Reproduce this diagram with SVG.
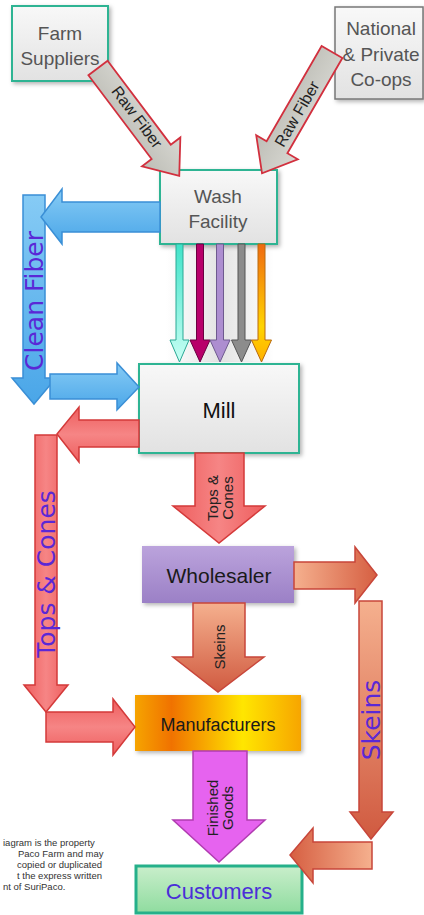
<svg xmlns="http://www.w3.org/2000/svg" width="424" height="915" viewBox="0 0 424 915">
<defs>
<filter id="sh" x="-10%" y="-10%" width="125%" height="130%"><feDropShadow dx="2" dy="2" stdDeviation="2" flood-color="#000" flood-opacity="0.3"/></filter>
<linearGradient id="gBox" x1="0" y1="0" x2="0" y2="1"><stop offset="0" stop-color="#f8f8f8"/><stop offset="1" stop-color="#e2e2e2"/></linearGradient>
<linearGradient id="gWhole" x1="0" y1="0" x2="0" y2="1"><stop offset="0" stop-color="#bba3dc"/><stop offset="1" stop-color="#9b80c6"/></linearGradient>
<linearGradient id="gManu" x1="0" y1="0" x2="1" y2="0"><stop offset="0" stop-color="#f6a400"/><stop offset="0.22" stop-color="#f07200"/><stop offset="0.65" stop-color="#ffe600"/><stop offset="1" stop-color="#f7a500"/></linearGradient>
<linearGradient id="gCust" x1="0" y1="0" x2="0" y2="1"><stop offset="0" stop-color="#c9eecb"/><stop offset="1" stop-color="#8fdc9f"/></linearGradient>
<linearGradient id="gBlue" x1="0" y1="0" x2="0" y2="1"><stop offset="0" stop-color="#86cbf5"/><stop offset="1" stop-color="#4aa6e8"/></linearGradient>
<linearGradient id="gRed" x1="0" y1="0" x2="1" y2="0"><stop offset="0" stop-color="#ee5e5e"/><stop offset="0.5" stop-color="#f68585"/><stop offset="1" stop-color="#ee5e5e"/></linearGradient>
<linearGradient id="gRedV" x1="0" y1="0" x2="0" y2="1"><stop offset="0" stop-color="#ee5e5e"/><stop offset="0.5" stop-color="#f68585"/><stop offset="1" stop-color="#ee5e5e"/></linearGradient>
<linearGradient id="gSalH" x1="0" y1="0" x2="1" y2="0"><stop offset="0" stop-color="#f5b08e"/><stop offset="1" stop-color="#d65f42"/></linearGradient>
<linearGradient id="gSalHr" x1="1" y1="0" x2="0" y2="0"><stop offset="0" stop-color="#f5b08e"/><stop offset="1" stop-color="#d65f42"/></linearGradient>
<linearGradient id="gSalV" x1="0" y1="0" x2="0" y2="1"><stop offset="0" stop-color="#f5b08e"/><stop offset="1" stop-color="#d05a40"/></linearGradient>
<linearGradient id="gGray" x1="0" y1="0" x2="0" y2="1"><stop offset="0" stop-color="#d8d8d2"/><stop offset="1" stop-color="#bdbdb6"/></linearGradient>
<linearGradient id="gCyan" x1="0" y1="0" x2="0" y2="1"><stop offset="0" stop-color="#3fe3c9"/><stop offset="1" stop-color="#c8fff4"/></linearGradient>
<linearGradient id="gOrange" x1="0" y1="0" x2="0" y2="1"><stop offset="0" stop-color="#f06a10"/><stop offset="0.7" stop-color="#ffd400"/><stop offset="1" stop-color="#ffb000"/></linearGradient>
<linearGradient id="gBack" x1="0" y1="0" x2="1" y2="0"><stop offset="0" stop-color="#ffffff"/><stop offset="0.5" stop-color="#dcdcdc"/><stop offset="1" stop-color="#ffffff"/></linearGradient>
</defs>
<style>
.box{fill:url(#gBox);stroke:#2db493;stroke-width:2;filter:url(#sh)}
.bt{font-family:"Liberation Sans",Arial,sans-serif;font-size:19px;fill:#555;text-anchor:middle}
.lab{font-family:"Liberation Sans",Arial,sans-serif;font-size:15px;fill:#222;text-anchor:middle}
.rawt{font-family:"Liberation Sans",Arial,sans-serif;font-size:16px;fill:#222;text-anchor:middle}
.big{font-family:"DejaVu Sans",Verdana,sans-serif;font-size:25px;fill:#5a28d6;text-anchor:middle}
.blue{fill:url(#gBlue);stroke:#3a8fd6;stroke-width:1.5}
.red{stroke:#d43a3a;stroke-width:1.5}
.sal{stroke:#c8463a;stroke-width:1.5}
.raw{fill:url(#gGray);stroke:#d2303e;stroke-width:1.8}
.note{font-family:"Liberation Sans",Arial,sans-serif;font-size:9.5px;fill:#333}
</style>

<rect x="166" y="244" width="108" height="118" fill="url(#gBack)" opacity="0.8"/>

<g id="farm-suppliers">
<rect class="box" x="12" y="6" width="96" height="75"/>
<text class="bt" x="60" y="40">Farm</text>
<text class="bt" x="60" y="65">Suppliers</text>
</g>

<g id="national-coops">
<rect x="335" y="7" width="88" height="92" fill="url(#gBox)" stroke="#777" stroke-width="1.5" filter="url(#sh)"/>
<text class="bt" x="381" y="35">National</text>
<text class="bt" x="381" y="61">&amp; Private</text>
<text class="bt" x="381" y="86">Co-ops</text>
</g>

<g id="wash-facility">
<rect class="box" x="160" y="170" width="117" height="74"/>
<text class="bt" x="218" y="203">Wash</text>
<text class="bt" x="218" y="228">Facility</text>
</g>

<g id="mill">
<rect class="box" x="139" y="364" width="160" height="89"/>
<text x="219" y="418" font-family="Liberation Sans, Arial, sans-serif" font-size="22" fill="#111" text-anchor="middle">Mill</text>
</g>

<g id="wholesaler">
<rect x="142" y="546" width="152" height="57" fill="url(#gWhole)" filter="url(#sh)"/>
<text x="219" y="583" font-family="Liberation Sans, Arial, sans-serif" font-size="21" fill="#1a1a1a" text-anchor="middle">Wholesaler</text>
</g>

<g id="manufacturers">
<rect x="135" y="695" width="166" height="56" fill="url(#gManu)" filter="url(#sh)"/>
<text x="218" y="731" font-family="Liberation Sans, Arial, sans-serif" font-size="18" fill="#1a1a1a" text-anchor="middle">Manufacturers</text>
</g>

<g id="customers">
<rect x="136" y="866" width="166" height="47" fill="url(#gCust)" stroke="#25b08a" stroke-width="3"/>
<text x="219" y="899" font-family="Liberation Sans, Arial, sans-serif" font-size="22" fill="#4a2ed8" text-anchor="middle">Customers</text>
</g>

<g id="connectors">
<polygon class="raw" transform="translate(98,68) rotate(53)" points="0,-12 105,-12 105,-24 135,0 105,24 105,12 0,12"/>
<text class="rawt" transform="translate(137,117) rotate(53)" x="0" y="5.5">Raw Fiber</text>
<polygon class="raw" transform="translate(332,52) rotate(120)" points="0,-12 110,-12 110,-24 140,0 110,24 110,12 0,12"/>
<text class="rawt" transform="translate(297,114) rotate(-60)" x="0" y="5.5">Raw Fiber</text>

<polygon class="blue" points="23,195 45,195 45,378 56,378 34,404 12,378 23,378"/>
<polygon class="blue" points="160,202 62,202 62,189 41,217 62,244 62,232 160,232"/>
<polygon class="blue" points="50,374 117,374 117,363 139,387 117,410 117,399 50,399"/>
<text class="big" transform="translate(43,301) rotate(-90)" x="0" y="0">Clean Fiber</text>

<polygon fill="url(#gCyan)" stroke="#2aa894" stroke-width="1" points="176,244 183,244 183,340 189,340 179.5,362 170,340 176,340"/>
<polygon fill="#b8006a" stroke="#6a0040" stroke-width="1" points="196.5,244 203.5,244 203.5,340 210,340 200,362 190,340 196.5,340"/>
<polygon fill="#ad8ed0" stroke="#6e5a8e" stroke-width="1" points="216.5,244 223.5,244 223.5,340 230,340 220,362 210,340 216.5,340"/>
<polygon fill="#8c8c8c" stroke="#555" stroke-width="1" points="238,244 245,244 245,340 251.5,340 241.5,362 231.5,340 238,340"/>
<polygon fill="url(#gOrange)" stroke="#b86a10" stroke-width="1" points="258,244 265,244 265,340 271.5,340 261.5,362 251.5,340 258,340"/>

<polygon class="red" fill="url(#gRed)" points="35,435 57,435 57,685 68,685 46,712 24,685 35,685"/>
<polygon class="red" fill="url(#gRedV)" points="139,420 79,420 79,407 57,434 79,462 79,447 139,447"/>
<polygon class="red" fill="url(#gRedV)" points="46,712 113,712 113,699 135,727 113,755 113,742 46,742"/>
<text class="big" transform="translate(55,574) rotate(-90)" x="0" y="0">Tops &amp; Cones</text>
<polygon class="red" fill="url(#gRed)" points="195,453 244,453 244,506 265,506 219,543 173,506 195,506"/>
<text class="lab" transform="translate(218,498) rotate(-90)" x="0" y="0">Tops &amp;</text>
<text class="lab" transform="translate(233,498) rotate(-90)" x="0" y="0">Cones</text>

<polygon class="sal" fill="url(#gSalH)" points="294,562 355,562 355,547 377,575 355,603 355,589 294,589"/>
<polygon class="sal" fill="url(#gSalV)" points="359,601 382,601 382,812 393,812 371,839 350,812 359,812"/>
<polygon class="sal" fill="url(#gSalHr)" points="372,842 313,842 313,828 290,855 313,883 313,869 372,869"/>
<text class="big" transform="translate(380,720) rotate(-90)" x="0" y="0">Skeins</text>
<polygon class="sal" fill="url(#gSalV)" points="193,603 245,603 245,657 264,657 218,692 173,657 193,657"/>
<text class="lab" transform="translate(225,647) rotate(-90)" x="0" y="0">Skeins</text>

<polygon fill="#e663ef" stroke="#b03cb0" stroke-width="1.5" points="193,751 247,751 247,820 265,820 219,862 173,820 193,820"/>
<text class="lab" transform="translate(218,808) rotate(-90)" x="0" y="0">Finished</text>
<text class="lab" transform="translate(233,808) rotate(-90)" x="0" y="0">Goods</text>
</g>

<g id="note">
<text class="note" x="3" y="846">iagram is the property</text>
<text class="note" x="18" y="857">Paco Farm and may</text>
<text class="note" x="17" y="868">copied or duplicated</text>
<text class="note" x="17" y="879">t the express written</text>
<text class="note" x="3" y="890">nt of SuriPaco.</text>
</g>
</svg>
